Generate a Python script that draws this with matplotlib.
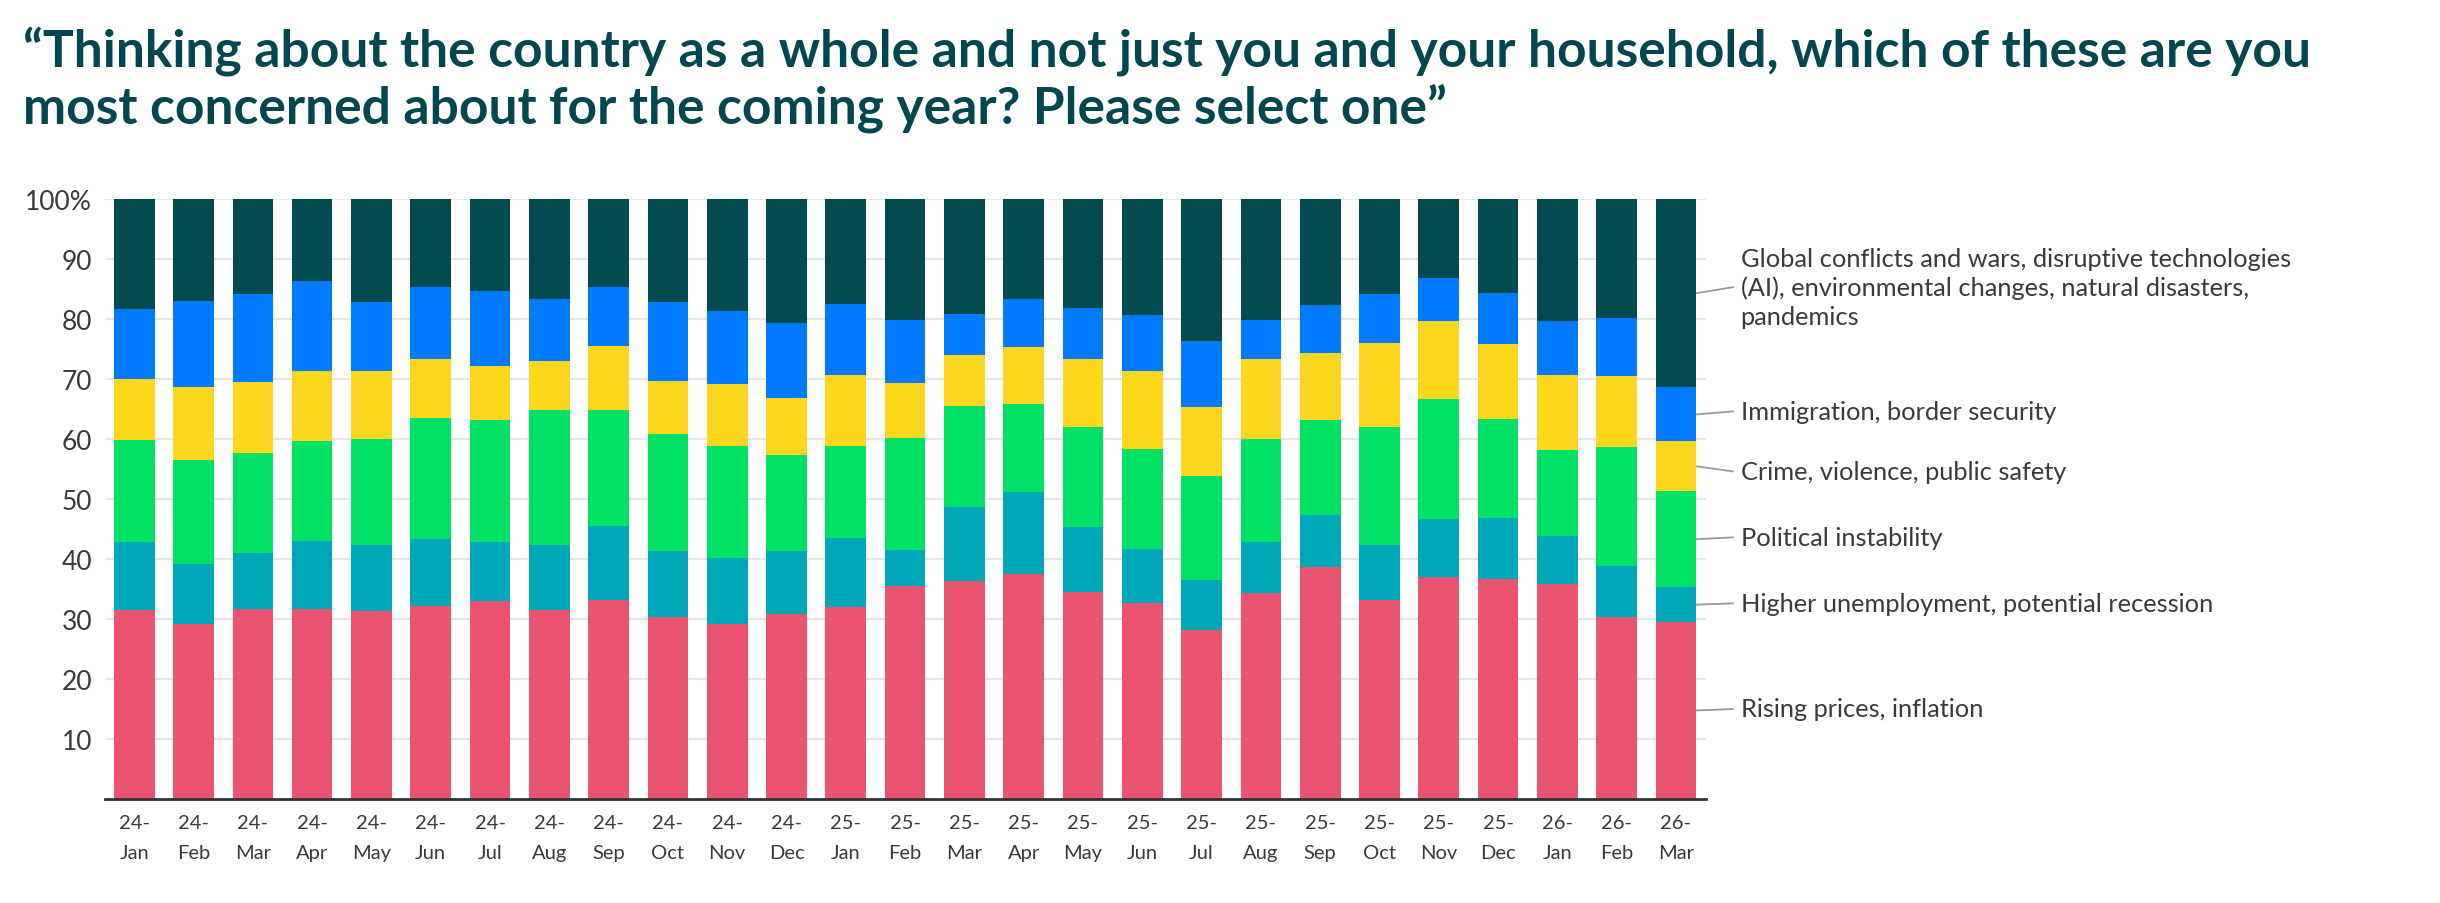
import matplotlib
matplotlib.use("Agg")
import matplotlib.pyplot as plt
import numpy as np

# months shown on the x axis
months = ["24-\nJan", "24-\nFeb", "24-\nMar", "24-\nApr", "24-\nMay", "24-\nJun",
          "24-\nJul", "24-\nAug", "24-\nSep", "24-\nOct", "24-\nNov", "24-\nDec",
          "25-\nJan", "25-\nFeb", "25-\nMar", "25-\nApr", "25-\nMay", "25-\nJun",
          "25-\nJul", "25-\nAug", "25-\nSep", "25-\nOct", "25-\nNov", "25-\nDec",
          "26-\nJan", "26-\nFeb", "26-\nMar"]

# share of respondents (%), bottom to top of the stack
rising_prices = [31.5, 29.2, 31.6, 31.6, 31.4, 32.2, 33.0, 31.5, 33.2, 30.4, 29.2, 30.8,
                 32.0, 35.5, 36.3, 37.5, 34.5, 32.7, 28.1, 34.3, 38.6, 33.2, 37.0, 36.7,
                 35.8, 30.4, 29.5]
unemployment = [11.4, 10.0, 9.4, 11.4, 10.9, 11.1, 9.9, 10.8, 12.3, 10.9, 10.9, 10.5,
                11.5, 6.0, 12.4, 13.6, 10.8, 9.0, 8.4, 8.5, 8.7, 9.1, 9.7, 10.1,
                8.0, 8.4, 5.8]
political = [16.9, 17.3, 16.6, 16.6, 17.7, 20.2, 20.2, 22.5, 19.3, 19.5, 18.7, 16.0,
             15.3, 18.6, 16.8, 14.7, 16.7, 16.6, 17.4, 17.2, 15.8, 19.7, 19.9, 16.5,
             14.3, 19.8, 16.0]
crime = [10.2, 12.1, 11.9, 11.7, 11.4, 9.8, 9.0, 8.2, 10.7, 8.8, 10.3, 9.5,
         11.8, 9.2, 8.5, 9.5, 11.3, 13.0, 11.4, 13.3, 11.2, 14.0, 13.0, 12.5,
         12.5, 11.9, 8.3]
immigration = [11.7, 14.4, 14.6, 15.0, 11.4, 12.0, 12.5, 10.3, 9.8, 13.2, 12.2, 12.5,
               11.9, 10.6, 6.8, 8.0, 8.5, 9.3, 11.0, 6.6, 8.0, 8.1, 7.2, 8.5,
               9.0, 9.6, 9.0]
global_conflicts = [18.3, 17.0, 15.9, 13.7, 17.2, 14.7, 15.4, 16.7, 14.7, 17.2, 18.7, 20.7,
                    17.5, 20.1, 19.2, 16.7, 18.2, 19.4, 23.7, 20.1, 17.7, 15.9, 13.2, 15.7,
                    20.4, 19.9, 31.4]

series_names = ["Rising prices, inflation",
                "Higher unemployment, potential recession",
                "Political instability",
                "Crime, violence, public safety",
                "Immigration, border security",
                "Global conflicts and wars, disruptive technologies\n(AI), environmental changes, natural disasters,\npandemics"]
series = [rising_prices, unemployment, political, crime, immigration, global_conflicts]
colors = ["#EA5471", "#00A7B9", "#00E266", "#FDD61E", "#007BFF", "#004A50"]

# where the right-hand labels sit (data units)
label_y = [15.0, 32.6, 43.6, 54.6, 64.6, 85.3]

plt.rcParams['font.family'] = ['Lato', 'DejaVu Sans']
text_color = "#3a3a3a"
title_color = "#00474F"

fig = plt.figure(figsize=(24.4, 9.04), dpi=100)
ax = fig.add_axes([104.6 / 2440, 104 / 904, 1601 / 2440, 600 / 904])

x = np.arange(len(months))
bottom = np.zeros(len(months))
for vals, col in zip(series, colors):
    ax.bar(x, vals, bottom=bottom, width=0.686, color=col, zorder=2)
    bottom = bottom + np.array(vals)

ax.set_xlim(-0.5, len(months) - 0.5)
ax.set_ylim(0, 100)
ax.set_yticks(range(10, 101, 10))
ax.set_yticklabels([str(v) for v in range(10, 100, 10)] + ["100%"])
ax.set_xticks(x)
ax.set_xticklabels(months, linespacing=1.9)
ax.tick_params(axis='y', length=0, pad=9, labelsize=19, labelcolor=text_color)
ax.tick_params(axis='x', length=0, pad=11, labelsize=14.5, labelcolor=text_color)
ax.yaxis.grid(True, color="#e6e6e6", lw=1.6, zorder=0)
ax.set_axisbelow(True)
for s in ["top", "right", "left"]:
    ax.spines[s].set_visible(False)
ax.spines["bottom"].set_color("#333333")
ax.spines["bottom"].set_linewidth(2)
ax.spines["bottom"].set_zorder(3)

# labels to the right of the last bar, with connector lines
last = len(months) - 1
cum = 0.0
for vals, name, ly in zip(series, series_names, label_y):
    mid = cum + vals[last] / 2
    cum += vals[last]
    ax.plot([last + 0.343, last + 0.96], [mid, ly], color="#9a9a9a", lw=1.3,
            clip_on=False, zorder=1)
    ax.text(last + 1.09, ly, name, va='center', ha='left', fontsize=18.3,
            color=text_color, linespacing=1.3)

# title, two lines, fitted to the reference width
t1 = fig.text(23 / 2440, 1 - 66 / 904,
              "\u201cThinking about the country as a whole and not just you and your household, which of these are you",
              fontsize=30, fontweight='bold', color=title_color, va='baseline', ha='left')
t2 = fig.text(23 / 2440, 1 - 124 / 904,
              "most concerned about for the coming year? Please select one\u201d",
              fontsize=30, fontweight='bold', color=title_color, va='baseline', ha='left')
fig.canvas.draw()
w = t1.get_window_extent().width
fs = 30 * 2287 / w
t1.set_fontsize(fs)
t2.set_fontsize(fs)

fig.savefig("out.png", dpi=100)
